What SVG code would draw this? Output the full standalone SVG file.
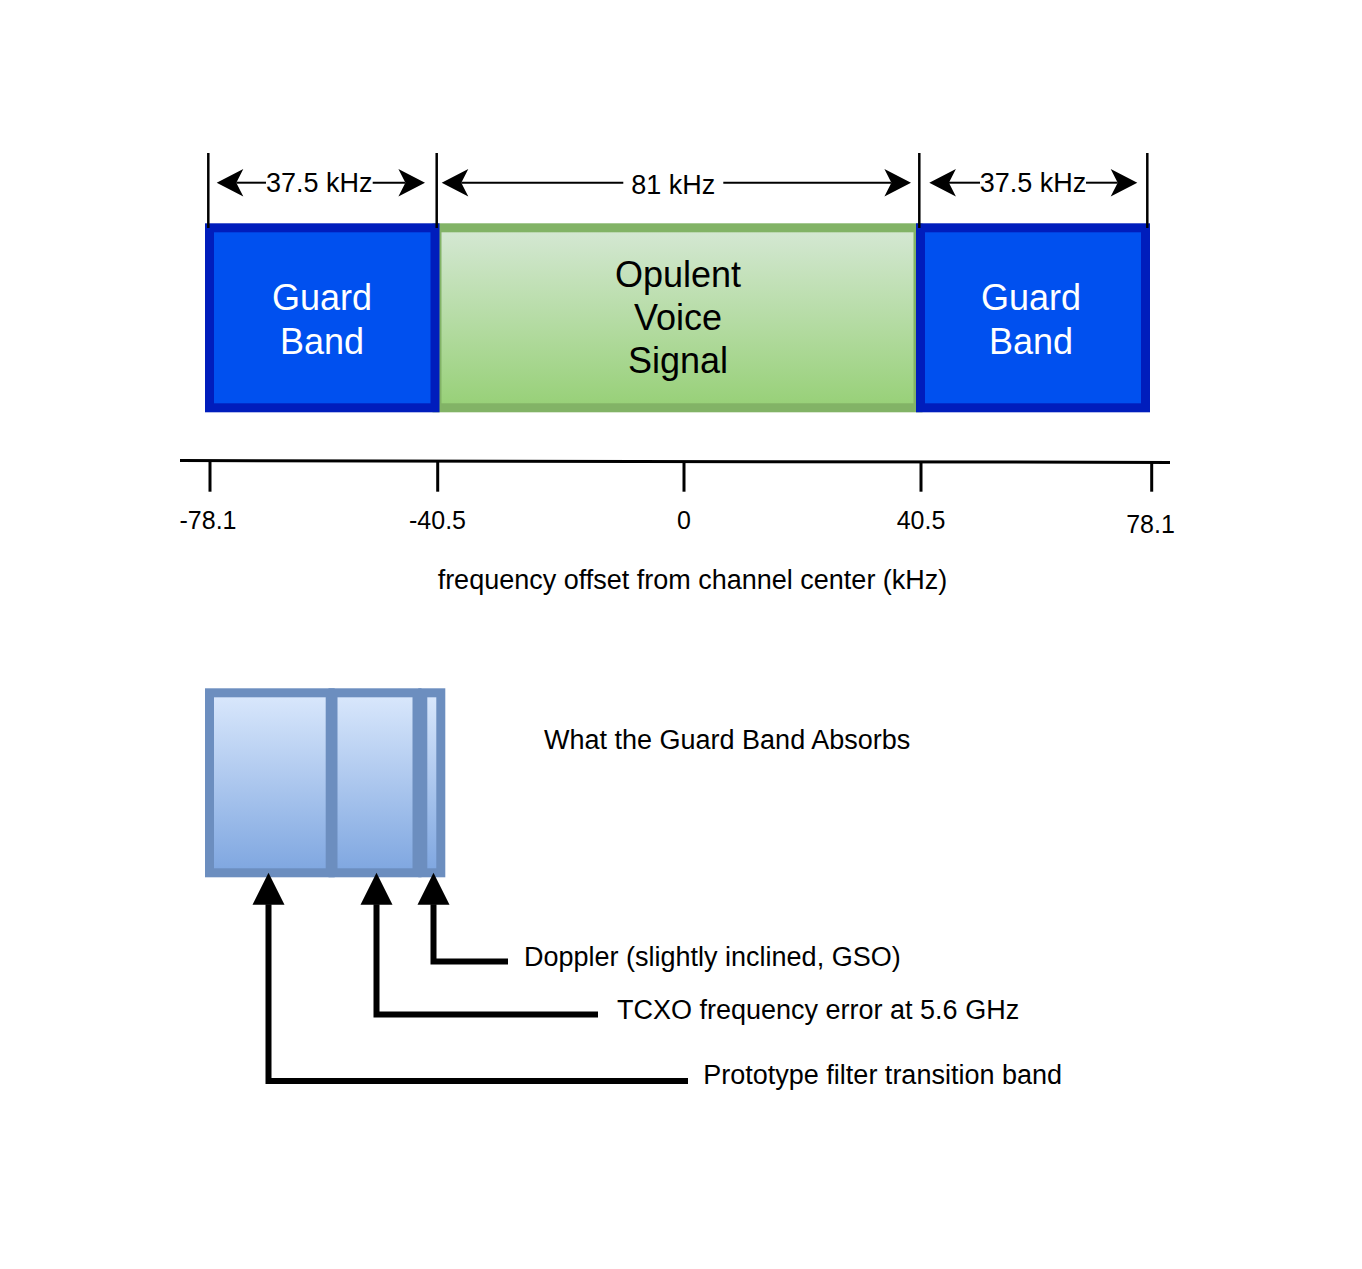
<svg xmlns="http://www.w3.org/2000/svg" width="1362" height="1269" viewBox="0 0 1362 1269">
<style>
text{font-family:"Liberation Sans",Arial,Helvetica,sans-serif;}
.lbl{font-size:27px;fill:#000;}
.big{font-size:36px;text-anchor:middle;}
.wt{fill:#fff;}
.bk{fill:#000;}
.tick{font-size:25px;fill:#000;text-anchor:middle;}
.guard{fill:#0050ef;stroke:#001dbc;stroke-width:9;}
.sig{fill:url(#gGreen);stroke:#82b366;stroke-width:9;}
.blk{fill:url(#gBlue);stroke:#6c8ebf;stroke-width:9;}
.dim{fill:none;stroke:#000;stroke-width:2;marker-end:url(#dimArrow);}
.ext{stroke:#000;stroke-width:2.5;}
.axis{stroke:#000;stroke-width:3;fill:none;}
.call{fill:none;stroke:#000;stroke-width:6;stroke-linejoin:miter;marker-end:url(#blockArrow);}
</style>
<defs>
<linearGradient id="gGreen" x1="0" y1="0" x2="0" y2="1"><stop offset="0" stop-color="#d5e8d4"/><stop offset="1" stop-color="#97d077"/></linearGradient>
<linearGradient id="gBlue" x1="0" y1="0" x2="0" y2="1"><stop offset="0" stop-color="#dae8fc"/><stop offset="1" stop-color="#7ea6e0"/></linearGradient>
<marker id="dimArrow" markerUnits="userSpaceOnUse" viewBox="0 0 27 28" markerWidth="27" markerHeight="28" refX="7" refY="14" orient="auto" overflow="visible">
<path d="M0,0.3 L26.6,14 L0,27.7 L7,14 Z" fill="#000"/>
</marker>
<marker id="blockArrow" markerUnits="userSpaceOnUse" viewBox="0 0 32 32" markerWidth="32" markerHeight="32" refX="0.5" refY="16" orient="auto" overflow="visible">
<path d="M0,0 L32,16 L0,32 Z" fill="#000"/>
</marker>
</defs>
<rect x="0" y="0" width="1362" height="1269" fill="#fff"/>

<g id="signal">
<rect class="sig" x="437" y="227.8" width="481" height="180"/>
<text class="big bk" x="678" y="287">Opulent</text>
<text class="big bk" x="678" y="330">Voice</text>
<text class="big bk" x="678" y="373">Signal</text>
</g>
<g id="guard-left">
<rect class="guard" x="209.5" y="227.8" width="225.5" height="180"/>
<text class="big wt" x="322" y="309.5">Guard</text>
<text class="big wt" x="322" y="353.5">Band</text>
</g>
<g id="guard-right">
<rect class="guard" x="920.5" y="227.8" width="225" height="180"/>
<text class="big wt" x="1031" y="309.5">Guard</text>
<text class="big wt" x="1031" y="353.5">Band</text>
</g>

<g id="dimensions">
<line class="ext" x1="208.3" y1="153" x2="208.3" y2="228"/>
<line class="ext" x1="436.7" y1="153" x2="436.7" y2="228"/>
<line class="ext" x1="919.3" y1="153" x2="919.3" y2="228"/>
<line class="ext" x1="1147.3" y1="153" x2="1147.3" y2="228"/>
<path class="dim" d="M266,182.7 H236.3"/>
<path class="dim" d="M372.7,182.7 H405.4"/>
<path class="dim" d="M623.3,182.7 H461.3"/>
<path class="dim" d="M723.3,182.7 H891.4"/>
<path class="dim" d="M980,182.7 H948.9"/>
<path class="dim" d="M1086,182.7 H1117.7"/>
<text class="lbl" x="319.3" y="192.3" text-anchor="middle">37.5 kHz</text>
<text class="lbl" x="673.3" y="194" text-anchor="middle">81 kHz</text>
<text class="lbl" x="1033" y="192.3" text-anchor="middle">37.5 kHz</text>
</g>

<g id="axis">
<path class="axis" d="M180,460.6 L1170,462.4"/>
<line class="axis" x1="210" y1="461" x2="210" y2="491.7"/>
<line class="axis" x1="437.7" y1="461" x2="437.7" y2="491.7"/>
<line class="axis" x1="684" y1="461.5" x2="684" y2="491.7"/>
<line class="axis" x1="921" y1="462" x2="921" y2="491.7"/>
<line class="axis" x1="1151.7" y1="462" x2="1151.7" y2="491.7"/>
<text class="tick" x="208" y="529">-78.1</text>
<text class="tick" x="437.5" y="529">-40.5</text>
<text class="tick" x="684" y="529">0</text>
<text class="tick" x="921" y="529">40.5</text>
<text class="tick" x="1150.5" y="532.5">78.1</text>
<text class="lbl" x="692.5" y="589" text-anchor="middle">frequency offset from channel center (kHz)</text>
</g>

<g id="absorb-blocks">
<rect class="blk" x="209.5" y="692.8" width="120.7" height="180"/>
<rect class="blk" x="333" y="692.8" width="84" height="180"/>
<rect class="blk" x="422.8" y="692.8" width="18" height="180"/>
</g>
<g id="title-absorbs">
<text class="lbl" x="544" y="748.5">What the Guard Band Absorbs</text>
</g>
<g id="label-doppler">
<text class="lbl" x="524" y="966">Doppler (slightly inclined, GSO)</text>
</g>
<g id="label-tcxo">
<text class="lbl" x="617" y="1019.3">TCXO frequency error at 5.6 GHz</text>
</g>
<g id="label-prototype">
<text class="lbl" x="703.3" y="1083.5">Prototype filter transition band</text>
</g>

<g id="connectors">
<path class="call" d="M688,1081 H268.5 V904.3"/>
<path class="call" d="M598,1014.5 H376.5 V904.3"/>
<path class="call" d="M508,961.5 H433.5 V904.3"/>
</g>
</svg>
